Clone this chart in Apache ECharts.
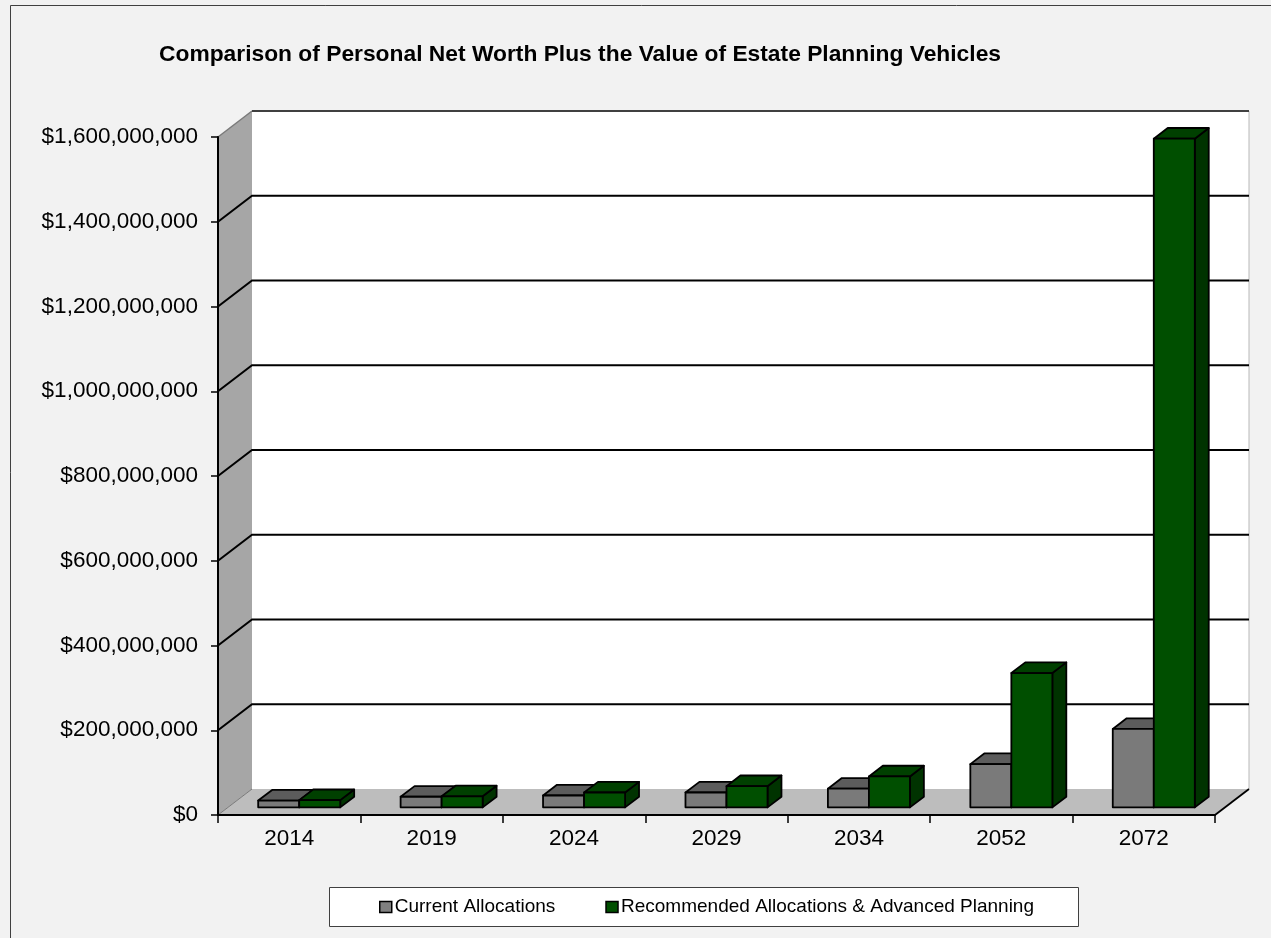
<!DOCTYPE html>
<html>
<head>
<meta charset="utf-8">
<script src="https://cdn.jsdelivr.net/npm/echarts@6/dist/echarts.min.js"></script>
<style>
html,body{margin:0;padding:0;background:#f2f2f2;}
#chart{width:1271px;height:938px;}
</style>
</head>
<body>
<div id="chart"></div>
<script>
// ---- data ----
const years = ['2014', '2019', '2024', '2029', '2034', '2052', '2072'];
const currentAllocations = [16e6, 25e6, 28e6, 35e6, 44e6, 102e6, 185e6];
const recommendedAllocations = [17e6, 26e6, 35e6, 50e6, 73e6, 317e6, 1578e6];
const yMin = 0, yMax = 1600000000, yStep = 200000000;
const seriesNames = ['Current Allocations', 'Recommended Allocations & Advanced Planning'];
const titleText = 'Comparison of Personal Net Worth Plus the Value of Estate Planning Vehicles';

// ---- style constants ----
const FONT = '"Liberation Sans", Arial, sans-serif';
const DX = 34, DY = -26;          // full depth offset of the 3D box
const F0 = 0.294, FD = 0.41;      // bar depth start and bar depth fraction
const BAR_W = 0.288;              // bar width as fraction of band

const yTicks = [];
for (let v = yMin; v <= yMax; v += yStep) yTicks.push(v);

function renderWalls(params, api) {
  const bw = api.size([1, 0])[0];
  const xL = api.coord([0, 0])[0] - bw / 2;
  const xR = api.coord([years.length - 1, 0])[0] + bw / 2;
  const y0 = api.coord([0, yMin])[1];
  const yT = api.coord([0, yMax])[1];
  const ch = [];
  ch.push({type: 'polygon', shape: {points: [[xL + DX, yT + DY], [xR + DX, yT + DY], [xR + DX, y0 + DY], [xL + DX, y0 + DY]]},
    style: {fill: '#ffffff'}});
  ch.push({type: 'polygon', shape: {points: [[xL, yT], [xL + DX, yT + DY], [xL + DX, y0 + DY], [xL, y0]]},
    style: {fill: '#a6a6a6'}});
  ch.push({type: 'polygon', shape: {points: [[xL, y0], [xR, y0], [xR + DX, y0 + DY], [xL + DX, y0 + DY]]},
    style: {fill: '#bdbdbd'}});
  ch.push({type: 'line', shape: {x1: xR + DX, y1: yT + DY, x2: xR + DX, y2: y0 + DY},
    style: {stroke: '#b8b8b8', lineWidth: 1}});
  yTicks.forEach(function (v) {
    const y = api.coord([0, v])[1];
    if (v === yMin) {
      ch.push({type: 'line', shape: {x1: xL, y1: y, x2: xL + DX, y2: y + DY}, style: {stroke: '#7a7a7a', lineWidth: 1}});
    } else if (v === yMax) {
      ch.push({type: 'line', shape: {x1: xL, y1: y, x2: xL + DX, y2: y + DY}, style: {stroke: '#7a7a7a', lineWidth: 1.5}});
      ch.push({type: 'line', shape: {x1: xL + DX, y1: y + DY, x2: xR + DX, y2: y + DY}, style: {stroke: '#404040', lineWidth: 2}});
    } else {
      ch.push({type: 'polyline', shape: {points: [[xL, y], [xL + DX, y + DY], [xR + DX, y + DY]]},
        style: {stroke: '#000000', lineWidth: 2, fill: null}});
    }
  });
  ch.push({type: 'line', shape: {x1: xR, y1: y0, x2: xR + DX, y2: y0 + DY}, style: {stroke: '#000', lineWidth: 1.8}});
  return {type: 'group', children: ch};
}

function makeBarRenderer(offsetIndex, colors) {
  return function (params, api) {
    const i = api.value(0), v = api.value(1);
    const base = api.coord([i, yMin]);
    const top = api.coord([i, v]);
    const bw = api.size([1, 0])[0];
    const w = bw * BAR_W;
    const sx = F0 * DX, sy = F0 * DY, bx = FD * DX, by = FD * DY;
    const xa = base[0] + (offsetIndex === 0 ? -w : 0) + sx;
    const xb = xa + w;
    const yb = base[1] + sy;
    const yt = top[1] + sy;
    const stroke = {stroke: '#000', lineWidth: 1.8, lineJoin: 'round'};
    return {type: 'group', children: [
      {type: 'polygon', shape: {points: [[xb, yt], [xb + bx, yt + by], [xb + bx, yb + by], [xb, yb]]},
        style: Object.assign({fill: colors.side}, stroke)},
      {type: 'polygon', shape: {points: [[xa, yt], [xb, yt], [xb + bx, yt + by], [xa + bx, yt + by]]},
        style: Object.assign({fill: colors.top}, stroke)},
      {type: 'rect', shape: {x: xa, y: yt, width: w, height: yb - yt},
        style: Object.assign({fill: colors.front}, stroke)}
    ]};
  };
}

const chart = echarts.init(document.getElementById('chart'), null, {renderer: 'canvas'});
chart.setOption({
  backgroundColor: '#f2f2f2',
  animation: false,
  textStyle: {fontFamily: FONT},
  graphic: [
    {type: 'rect', z: 0, silent: true, shape: {x: 10.5, y: 5.5, width: 1300, height: 960},
      style: {fill: null, stroke: '#404040', lineWidth: 1}},
    {type: 'text', z: 10, x: 580, y: 55,
      style: {text: titleText, font: 'bold 22.8px ' + FONT, fill: '#000', textAlign: 'center', textVerticalAlign: 'middle'}},
    {type: 'rect', z: 1, silent: true, shape: {x: 329.5, y: 887.5, width: 749, height: 39},
      style: {fill: '#ffffff', stroke: '#404040', lineWidth: 1}}
  ],
  legend: {
    data: seriesNames,
    left: 379, top: 897,
    z: 20,
    orient: 'horizontal',
    itemWidth: 12, itemHeight: 11, itemGap: 50,
    icon: 'rect',
    padding: 0,
    itemStyle: {borderColor: '#000', borderWidth: 1.5},
    textStyle: {fontFamily: FONT, fontSize: 19, color: '#000', lineHeight: 20, padding: [0, 0, 0, -2]}
  },
  grid: {left: 218, right: 56, top: 137, bottom: 123, containLabel: false},
  xAxis: {
    type: 'category', data: years,
    axisLine: {show: true, lineStyle: {color: '#000', width: 2}},
    axisTick: {show: true, length: 8, lineStyle: {color: '#000', width: 1.5}},
    axisLabel: {fontFamily: FONT, fontSize: 22.5, color: '#000', margin: 12},
    splitLine: {show: false}, z: 10
  },
  yAxis: {
    type: 'value', min: yMin, max: yMax, interval: yStep,
    axisLine: {show: true, lineStyle: {color: '#000', width: 2}},
    axisTick: {show: true, length: 7, lineStyle: {color: '#000', width: 1.5}},
    axisLabel: {fontFamily: FONT, fontSize: 22.5, color: '#000', margin: 20,
      formatter: function (v) { return '$' + Number(v).toLocaleString('en-US'); }},
    splitLine: {show: false}, z: 10
  },
  series: [
    {type: 'custom', name: '_walls', silent: true, z: 1, renderItem: renderWalls,
      data: [[0, 0]], encode: {x: 0, y: 1}, tooltip: {show: false}},
    {type: 'custom', name: seriesNames[0], z: 3, silent: true,
      itemStyle: {color: '#808080'},
      renderItem: makeBarRenderer(0, {front: '#7a7a7a', top: '#5c5c5c', side: '#4a4a4a'}),
      data: currentAllocations.map(function (v, i) { return [i, v]; }), encode: {x: 0, y: 1}},
    {type: 'custom', name: seriesNames[1], z: 4, silent: true,
      itemStyle: {color: '#004f00'},
      renderItem: makeBarRenderer(1, {front: '#004f00', top: '#004000', side: '#003300'}),
      data: recommendedAllocations.map(function (v, i) { return [i, v]; }), encode: {x: 0, y: 1}}
  ]
});
</script>
</body>
</html>
